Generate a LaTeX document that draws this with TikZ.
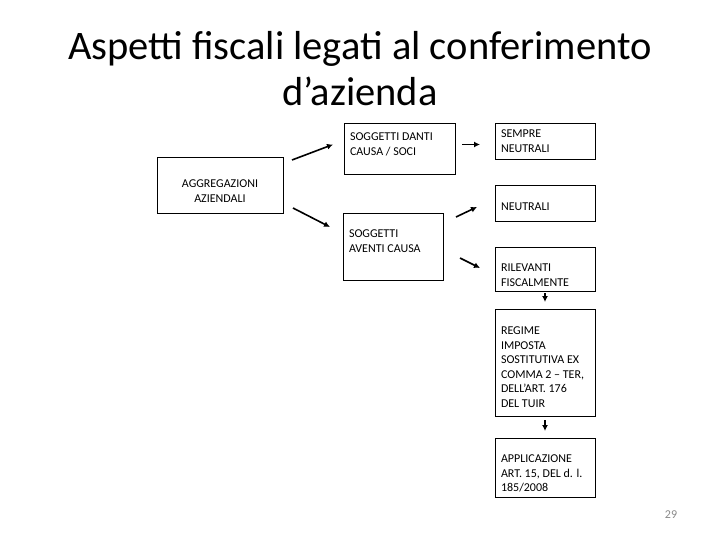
\documentclass[tikz,border=0pt]{standalone}
\usepackage{fontspec}
\setmainfont{Carlito}
\usetikzlibrary{arrows.meta,calc}
\newcommand{\cell}[4]{\parbox[c][#2][t]{#1}{\vspace*{#3}\raggedright #4}}
\definecolor{pagegray}{RGB}{137,137,137}

\begin{document}
\begin{tikzpicture}[
 x=1pt,y=-1pt,
 font=\fontsize{12}{14.5}\selectfont,
 box/.style={draw,line width=0.8pt,anchor=north west,inner xsep=6pt,inner ysep=0pt,outer sep=0pt},
 flow/.style={-{Latex[length=6pt,width=6pt]},line width=1.6pt}]
\useasboundingbox (0,0) rectangle (720,540);
\node[anchor=north,align=center,inner sep=0pt,font=\fontsize{40.5}{46}\selectfont] (title) at (360,31)
 {Aspetti fiscali legati al conferimento\\d’azienda};
% left column
\node[box] (agg) at (157,157) {\cell{114pt}{56pt}{23pt}{\centering AGGREGAZIONI\\AZIENDALI}};
% middle column
\node[box] (danti) at (344,123) {\cell{99pt}{51pt}{10pt}{SOGGETTI DANTI\\CAUSA / SOCI}};
\node[box] (aventi) at (343,213) {\cell{88pt}{67pt}{17pt}{SOGGETTI\\AVENTI CAUSA}};
% right column
\node[box] (sempre) at (495,123) {\cell{88pt}{36pt}{7pt}{SEMPRE\\NEUTRALI}};
\node[box] (neutr) at (495,185) {\cell{88pt}{36pt}{18pt}{NEUTRALI}};
\node[box] (rilev) at (495,247) {\cell{88pt}{44pt}{17pt}{RILEVANTI\\FISCALMENTE}};
\node[box] (regime) at (495,309) {\cell{88pt}{107pt}{18pt}{REGIME\\IMPOSTA\\SOSTITUTIVA EX\\COMMA 2 – TER,\\DELL’ART. 176\\DEL TUIR}};
\node[box] (applic) at (495,438) {\cell{88pt}{59pt}{17pt}{APPLICAZIONE\\ART. 15, DEL d. l.\\185/2008}};
\node[text=pagegray] (page) at (671,515) {29};
% arrows
\draw[flow] ($(agg.north east)+(9,3)$) -- ($(danti.west)+(-11,-4)$);
\draw[flow] ($(agg.south east)+(10,-5)$) -- ($(aventi.north west)+(-13,14)$);
\draw[flow] ($(danti.east)+(7,-4)$) -- ($(sempre.west)+(-15,3.5)$);
\draw[flow] ($(aventi.north east)+(13,4)$) -- ($(neutr.south west)+(-18,-14)$);
\draw[flow] ($(aventi.east)+(17,11.5)$) -- ($(rilev.west)+(-15,-1)$);
\draw[flow] ($(rilev.south)+(0,2)$) -- ($(regime.north)+(0,-7)$);
\draw[flow] ($(regime.south)+(0,4)$) -- ($(applic.north)+(0,-7)$);
\end{tikzpicture}
\end{document}
